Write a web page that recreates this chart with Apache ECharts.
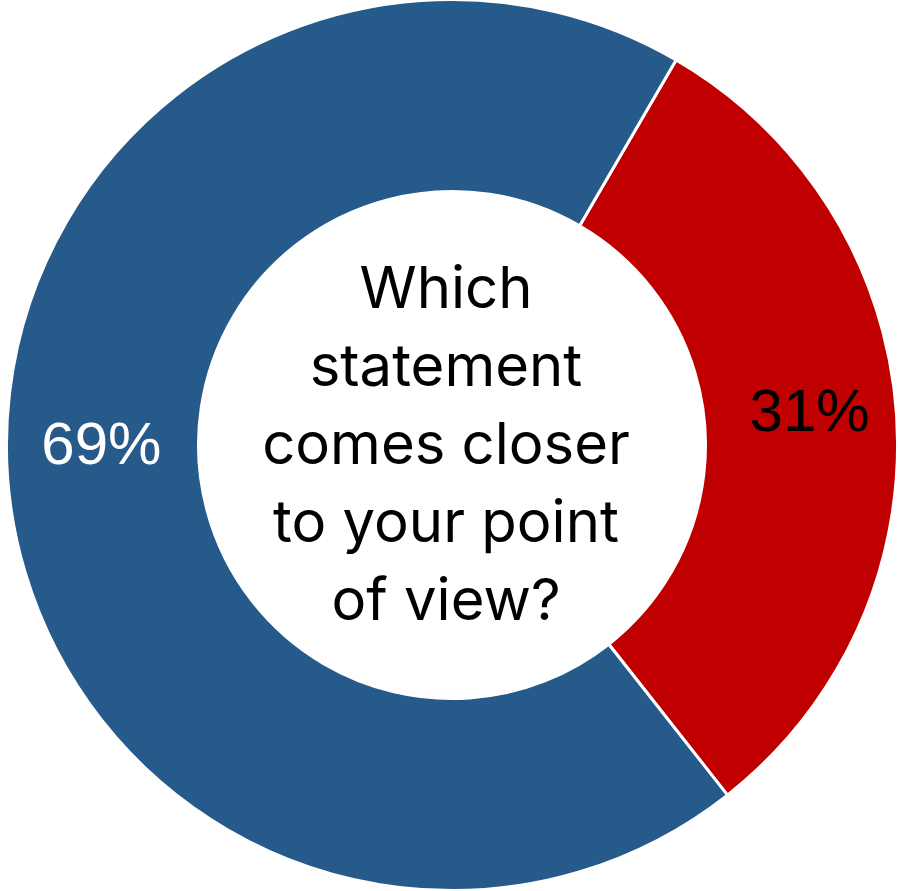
<!DOCTYPE html>
<html>
<head>
<meta charset="utf-8">
<script src="https://cdn.jsdelivr.net/npm/echarts@6/dist/echarts.min.js"></script>
<style>
  html, body { margin: 0; padding: 0; background: #ffffff; }
  #chart { width: 898px; height: 891px; }
</style>
</head>
<body>
<div id="chart"></div>
<script>
const categories = ['Red view', 'Blue view'];
const values = [31, 69];
const sliceColors = ['#C00000', '#255A8A'];
const labelColors = ['#000000', '#ffffff'];
const centerText = ['Which', 'statement', 'comes closer', 'to your point', 'of view?'];

const chart = echarts.init(document.getElementById('chart'), null, { renderer: 'canvas' });

const data = categories.map((name, i) => ({
  name: name,
  value: values[i],
  itemStyle: { color: sliceColors[i] },
  label: { color: labelColors[i] }
}));

// small nudges of the data labels (as placed in the original)
const labelNudge = [[6, -6], [1, -22]];

chart.setOption({
  animation: false,
  backgroundColor: '#ffffff',
  series: [{
    type: 'pie',
    center: [452, 445],
    radius: [253.5, 445.5],
    startAngle: 59.8,
    clockwise: true,
    avoidLabelOverlap: false,
    itemStyle: { borderColor: '#ffffff', borderWidth: 3 },
    label: {
      show: true,
      position: 'inside',
      formatter: '{c}%',
      fontFamily: '"Liberation Sans", Arial, sans-serif',
      fontSize: 60
    },
    labelLayout: function (params) {
      const n = labelNudge[params.dataIndex] || [0, 0];
      return { dx: n[0], dy: n[1] };
    },
    labelLine: { show: false },
    emphasis: { disabled: true },
    data: data
  }],
  graphic: [{
    type: 'text',
    x: 446,
    y: 447,
    style: {
      text: centerText.join('\n'),
      font: '58px Inter, "Noto Sans", sans-serif',
      fill: '#000000',
      align: 'center',
      verticalAlign: 'middle',
      lineHeight: 78
    }
  }]
});
</script>
</body>
</html>
